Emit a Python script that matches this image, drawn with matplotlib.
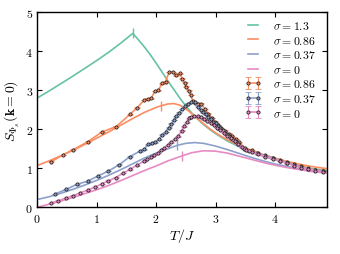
import matplotlib
matplotlib.use("Agg")
import matplotlib.pyplot as plt
from matplotlib.ticker import FuncFormatter

plt.rcParams['mathtext.fontset'] = 'cm'
plt.rcParams['font.family'] = ['serif']
plt.rcParams['font.serif'] = ['cmr10', 'DejaVu Serif']
plt.rcParams['axes.formatter.use_mathtext'] = True

# ---- smooth curves (theory) ----
t_g = [0.0, 0.2, 0.4, 0.6, 0.8, 1.0, 1.2, 1.4, 1.61, 1.7, 1.8, 1.9, 2.0, 2.1, 2.2, 2.3, 2.4,
       2.5, 2.6, 2.7, 2.8, 2.9, 3.0, 3.2, 3.4, 3.6, 3.8, 4.0, 4.2, 4.4, 4.6, 4.87]
s_g = [2.80, 2.98, 3.17, 3.36, 3.56, 3.76, 3.97, 4.20, 4.46, 4.30, 4.12, 3.92, 3.70, 3.47, 3.24,
       3.02, 2.80, 2.60, 2.42, 2.26, 2.12, 2.00, 1.89, 1.70, 1.55, 1.42, 1.31, 1.22, 1.14, 1.07,
       1.00, 0.94]

t_o = [0.0, 0.2, 0.4, 0.6, 0.8, 1.0, 1.2, 1.4, 1.6, 1.8, 2.0, 2.1, 2.2, 2.3, 2.4, 2.5, 2.6,
       2.7, 2.8, 2.9, 3.0, 3.2, 3.4, 3.6, 3.8, 4.0, 4.2, 4.4, 4.6, 4.87]
s_o = [1.07, 1.19, 1.32, 1.46, 1.61, 1.77, 1.93, 2.10, 2.27, 2.43, 2.56, 2.61, 2.65, 2.66,
       2.62, 2.53, 2.40, 2.27, 2.14, 2.02, 1.91, 1.73, 1.58, 1.46, 1.35, 1.26, 1.18, 1.11, 1.05,
       0.99]

t_b = [0.0, 0.2, 0.4, 0.6, 0.8, 1.0, 1.2, 1.4, 1.6, 1.8, 2.0, 2.2, 2.36, 2.5, 2.65, 2.8, 3.0,
       3.2, 3.4, 3.6, 3.8, 4.0, 4.2, 4.4, 4.6, 4.87]
s_b = [0.20, 0.27, 0.36, 0.46, 0.57, 0.69, 0.82, 0.96, 1.11, 1.26, 1.39, 1.50, 1.59, 1.64,
       1.66, 1.64, 1.57, 1.48, 1.38, 1.28, 1.19, 1.11, 1.05, 0.99, 0.94, 0.90]

t_p = [0.0, 0.2, 0.4, 0.6, 0.8, 1.0, 1.2, 1.4, 1.6, 1.8, 2.0, 2.2, 2.44, 2.6, 2.8, 3.0, 3.2,
       3.4, 3.6, 3.8, 4.0, 4.2, 4.4, 4.6, 4.87]
s_p = [0.00, 0.08, 0.16, 0.25, 0.35, 0.45, 0.56, 0.68, 0.81, 0.94, 1.06, 1.19, 1.32, 1.40,
       1.45, 1.44, 1.39, 1.31, 1.23, 1.15, 1.08, 1.02, 0.97, 0.92, 0.88]

# critical-temperature tick marks on curves
tc_t = [1.61, 2.08, 2.36, 2.44]
tc_s = [4.46, 2.61, 1.59, 1.32]

# ---- simulation data ----
d_o_t = [0.24, 0.43, 0.61, 0.85, 1.09, 1.33, 1.56, 1.68, 1.80, 1.86, 1.92, 1.98, 2.04, 2.10,
         2.16, 2.22, 2.28, 2.34, 2.40, 2.44, 2.48, 2.51, 2.55, 2.58, 2.62, 2.66, 2.71, 2.76,
         2.82, 2.88, 2.94, 2.99, 3.05, 3.10, 3.16, 3.22, 3.28, 3.34, 3.40, 3.49, 3.61, 3.72,
         3.84, 3.97, 4.08, 4.20, 4.32, 4.44, 4.56, 4.68, 4.80]
d_o_s = [1.17, 1.34, 1.48, 1.68, 1.93, 2.07, 2.38, 2.55, 2.75, 2.78, 2.79, 2.98, 3.00, 3.18,
         3.22, 3.47, 3.47, 3.38, 3.44, 3.30, 3.19, 3.09, 2.99, 2.88, 2.72, 2.68, 2.66, 2.66,
         2.52, 2.40, 2.29, 2.20, 2.11, 2.03, 1.96, 1.89, 1.82, 1.75, 1.67, 1.52, 1.46, 1.39,
         1.33, 1.27, 1.21, 1.15, 1.10, 1.05, 1.00, 0.96, 0.94]

d_b_t = [0.30, 0.49, 0.67, 0.85, 1.02, 1.20, 1.38, 1.56, 1.73, 1.80, 1.87, 1.93, 1.99, 2.05,
         2.10, 2.16, 2.21, 2.26, 2.30, 2.34, 2.39, 2.44, 2.49, 2.53, 2.59, 2.65, 2.71, 2.75,
         2.79, 2.84, 2.88, 2.92, 2.96, 3.00, 3.04, 3.08, 3.12, 3.16, 3.21, 3.24, 3.28, 3.33,
         3.38, 3.48, 3.57, 3.70, 3.84, 3.97, 4.08, 4.20, 4.32, 4.44, 4.55, 4.68, 4.80]
d_b_s = [0.34, 0.46, 0.59, 0.67, 0.80, 0.93, 1.09, 1.30, 1.44, 1.49, 1.62, 1.65, 1.67, 1.74,
         1.86, 1.93, 2.04, 2.14, 2.24, 2.33, 2.43, 2.52, 2.60, 2.66, 2.69, 2.69, 2.58, 2.50,
         2.44, 2.38, 2.32, 2.27, 2.20, 2.15, 2.09, 2.03, 1.97, 1.91, 1.86, 1.81, 1.75, 1.70,
         1.62, 1.50, 1.44, 1.38, 1.32, 1.26, 1.20, 1.14, 1.09, 1.03, 0.99, 0.95, 0.93]

d_p_t = [0.24, 0.36, 0.49, 0.61, 0.72, 0.85, 0.97, 1.09, 1.20, 1.32, 1.45, 1.56, 1.68, 1.79,
         1.85, 1.91, 1.97, 2.03, 2.09, 2.14, 2.20, 2.26, 2.32, 2.37, 2.43, 2.47, 2.52, 2.56,
         2.59, 2.64, 2.70, 2.76, 2.81, 2.86, 2.92, 2.97, 3.03, 3.08, 3.14, 3.20, 3.26, 3.32,
         3.38, 3.45, 3.52, 3.61, 3.72, 3.84, 3.97, 4.08, 4.20, 4.32, 4.44, 4.56, 4.68, 4.80]
d_p_s = [0.11, 0.17, 0.24, 0.30, 0.37, 0.44, 0.52, 0.60, 0.68, 0.76, 0.88, 0.97, 1.08, 1.18,
         1.24, 1.29, 1.34, 1.39, 1.46, 1.52, 1.60, 1.67, 1.74, 1.82, 1.96, 2.08, 2.18, 2.28,
         2.32, 2.33, 2.33, 2.31, 2.26, 2.22, 2.16, 2.11, 2.04, 1.98, 1.91, 1.84, 1.77, 1.70,
         1.62, 1.54, 1.47, 1.42, 1.36, 1.30, 1.24, 1.19, 1.13, 1.07, 1.02, 0.98, 0.94, 0.91]

labels = [r'$\sigma = 1.3$', r'$\sigma = 0.86$', r'$\sigma = 0.37$', r'$\sigma = 0$']
colors = ['#66c2a5', '#fc8d62', '#8da0cb', '#e78ac3']

fig = plt.figure(figsize=(3.4, 2.55), dpi=100)
ax = fig.add_axes([0.109, 0.183, 0.852, 0.765])

lw = 1.2
for t, s, c, lab in zip([t_g, t_o, t_b, t_p], [s_g, s_o, s_b, s_p], colors, labels):
    ax.plot(t, s, color=c, lw=lw, label=lab)
for tt, ss, c in zip(tc_t, tc_s, colors):
    ax.plot([tt], [ss], marker='|', ms=7, mew=1.0, color=c, ls='none')

for t, s, c, lab in zip([d_o_t, d_b_t, d_p_t], [d_o_s, d_b_s, d_p_s], colors[1:], labels[1:]):
    ax.errorbar(t, s, yerr=0.01, fmt='o-', color=c, lw=lw, ms=2.3, mfc=c, mec='#222222',
                mew=0.6, capsize=2, elinewidth=0.8, label=lab)

ax.set_xlim(0, 4.87)
ax.set_ylim(0, 5)
ax.set_xticks([0, 1, 2, 3, 4])
ax.set_yticks([0, 1, 2, 3, 4, 5])
fmt = FuncFormatter(lambda v, p: r'$%d$' % v)
ax.xaxis.set_major_formatter(fmt)
ax.yaxis.set_major_formatter(fmt)
ax.tick_params(direction='in', top=True, right=True, length=3.5, width=0.8,
               labelsize=8.5, pad=3)
for sp in ax.spines.values():
    sp.set_linewidth(1.0)

ax.set_xlabel(r'$T/J$', fontsize=10, labelpad=2)
ax.set_ylabel(r'$S_{\Phi_s}(\mathbf{k}=0)$', fontsize=10, labelpad=2)

leg = ax.legend(loc='upper left', bbox_to_anchor=(0.70, 0.99), frameon=False, fontsize=8.5,
                numpoints=2, handlelength=1.4, handletextpad=1.0, labelspacing=0.22,
                borderaxespad=0.0)

fig.savefig('out.png', dpi=100)
